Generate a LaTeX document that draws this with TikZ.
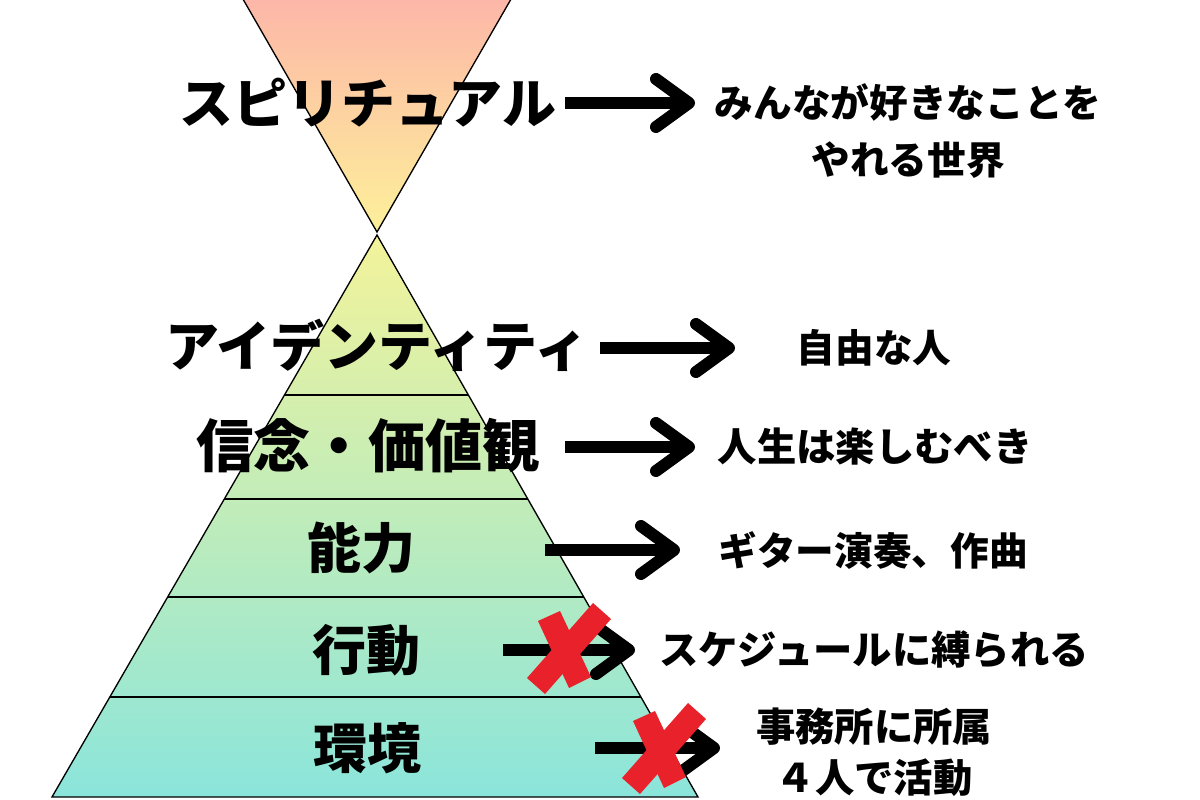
\documentclass[tikz,border=0pt]{standalone}
\usepackage{fontspec}
\setmainfont{Noto Sans CJK JP}
\usetikzlibrary{calc}
\definecolor{pinktop}{HTML}{FDB2A9}
\definecolor{yelapex}{HTML}{FDF09A}
\definecolor{pyrtop}{HTML}{F3F39A}
\definecolor{pyrmid}{HTML}{C3EDB6}
\definecolor{pyrbot}{HTML}{8BE5DB}
\definecolor{xred}{HTML}{E8212B}
\tikzset{
 big/.style={font=\fontsize{40.5}{46}\selectfont\bfseries, inner sep=0pt},
 small/.style={font=\fontsize{29}{43}\selectfont\bfseries, inner sep=0pt, align=center},
 arr/.style={line width=9pt, black},
 head/.style={line width=9pt, black, line cap=round, line join=round},
 edge/.style={line width=1pt, draw=black},
 level/.style={line width=1.5pt, black}
}
\newcommand\bigarrow[2]{%
  \draw[arr] (#1) -- ($(#2)+(-4,0)$);
  \draw[head] ($(#2)+(-33,-24)$) -- (#2) -- ($(#2)+(-33,24)$);}
\newcommand\redx[1]{%
  \begin{scope}[shift={(#1)}]
  \fill[xred] (46,-29) -- (28,-45) -- (-38,30) -- (-20,46) -- cycle;
  \fill[xred] (-5,-37) -- (-27,-27) -- (4,40) -- (26,29) -- cycle;
  \end{scope}}
\begin{document}
\begin{tikzpicture}[x=0.75pt,y=-0.75pt]
\useasboundingbox (0,0) rectangle (1200,800);
\fill[white] (0,0) rectangle (1200,800);
% upper inverted triangle
\begin{scope}
\clip (0,0) rectangle (1200,800);
\path[edge, top color=pinktop, bottom color=yelapex] (232,-20) -- (522,-20) -- (377,232) -- cycle;
\end{scope}
% lower pyramid
\coordinate (A) at (377,235);
\coordinate (BL) at (52,797);
\coordinate (BR) at (698,797);
\path[edge, top color=pyrtop, middle color=pyrmid, bottom color=pyrbot] (A) -- (BR) -- (BL) -- cycle;
\foreach \t in {0.2847,0.4698,0.6441,0.8221}
  \draw[level] ($(A)!\t!(BL)$) -- ($(A)!\t!(BR)$);
% arrow end points
\coordinate (s1) at (565,103); \coordinate (e1) at (689,103);
\coordinate (s2) at (600,348); \coordinate (e2) at (729,348);
\coordinate (s3) at (565,447); \coordinate (e3) at (689,447);
\coordinate (s4) at (545,550); \coordinate (e4) at (674,550);
\coordinate (s5) at (503,650); \coordinate (e5) at (629,650);
\coordinate (s6) at (595,748); \coordinate (e6) at (714,748);
\bigarrow{s1}{e1}
\bigarrow{s2}{e2}
\bigarrow{s3}{e3}
\bigarrow{s4}{e4}
\bigarrow{s5}{e5}
\bigarrow{s6}{e6}
\redx{565,648}
\redx{660,748}
% left labels
\node[big] (sp) at (368,103) {スピリチュアル};
\node[big] (id) at (377,345) {アイデンティティ};
\node[big, font=\fontsize{43}{48}\selectfont\bfseries] (sh) at (368,446) {信念・価値観};
\node[big] (no) at (361,548) {能力};
\node[big] (ko) at (366,650) {行動};
\node[big] (ka) at (367,748) {環境};
% right labels
\node[small] (r1) at (908,131) {みんなが好きなことを\\やれる世界};
\node[small] (r2) at (874,348) {自由な人};
\node[small, font=\fontsize{29.5}{43}\selectfont\bfseries] (r3) at (875,447) {人生は楽しむべき};
\node[small] (r4) at (873,550) {ギター演奏、作曲};
\node[small, font=\fontsize{29.5}{43}\selectfont\bfseries] (r5) at (874,650) {スケジュールに縛られる};
\node[small, font=\fontsize{29.5}{38}\selectfont\bfseries] (r6) at (874,752) {事務所に所属\\４人で活動};
\end{tikzpicture}
\end{document}
